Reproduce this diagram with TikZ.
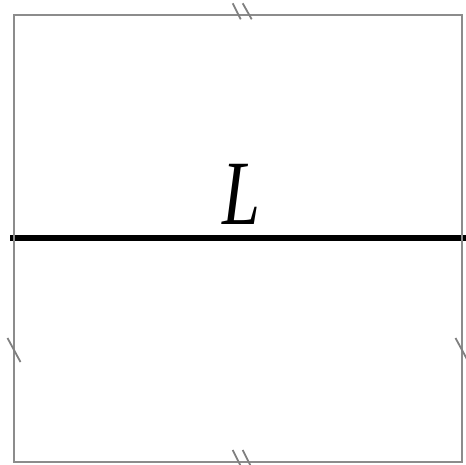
\documentclass[tikz,border=0pt]{standalone}
\usepackage{fontspec}
\newfontfamily\lfont{Liberation Serif}
\begin{document}
\begin{tikzpicture}[x=1pt,y=-1pt,
  frame/.style={draw=black!45,line width=1.3pt},
  tick/.style={draw=black!50,line width=1.8pt},
  thick line/.style={draw=black,line width=6pt}]
\useasboundingbox (0,0) rectangle (466,464);
\coordinate (la) at (10,238);
\coordinate (lb) at (466,238);
\draw[thick line] (la) -- (lb);
\node[inner sep=0pt,anchor=base,xscale=0.74] (L) at (241,224) {\fontsize{92}{92}\selectfont\lfont\itshape L};
\coordinate (nw) at (14,15);
\coordinate (se) at (462,462);
\draw[frame] (nw) rectangle (se);
% top double ticks
\coordinate (t1a) at (232.7,3.3); \coordinate (t1b) at (240.7,19.3);
\coordinate (t2a) at (242.7,3.3); \coordinate (t2b) at (251.7,19.3);
\draw[tick] (t1a) -- (t1b);
\draw[tick] (t2a) -- (t2b);
% bottom double ticks
\coordinate (b1a) at (232.7,450); \coordinate (b1b) at (240.7,466);
\coordinate (b2a) at (242.7,450); \coordinate (b2b) at (250.7,466);
\draw[tick] (b1a) -- (b1b);
\draw[tick] (b2a) -- (b2b);
% side ticks
\coordinate (l1a) at (7.5,338); \coordinate (l1b) at (20.5,362);
\coordinate (r1a) at (455.5,338); \coordinate (r1b) at (468.5,362);
\draw[tick] (l1a) -- (l1b);
\draw[tick] (r1a) -- (r1b);
\end{tikzpicture}
\end{document}
